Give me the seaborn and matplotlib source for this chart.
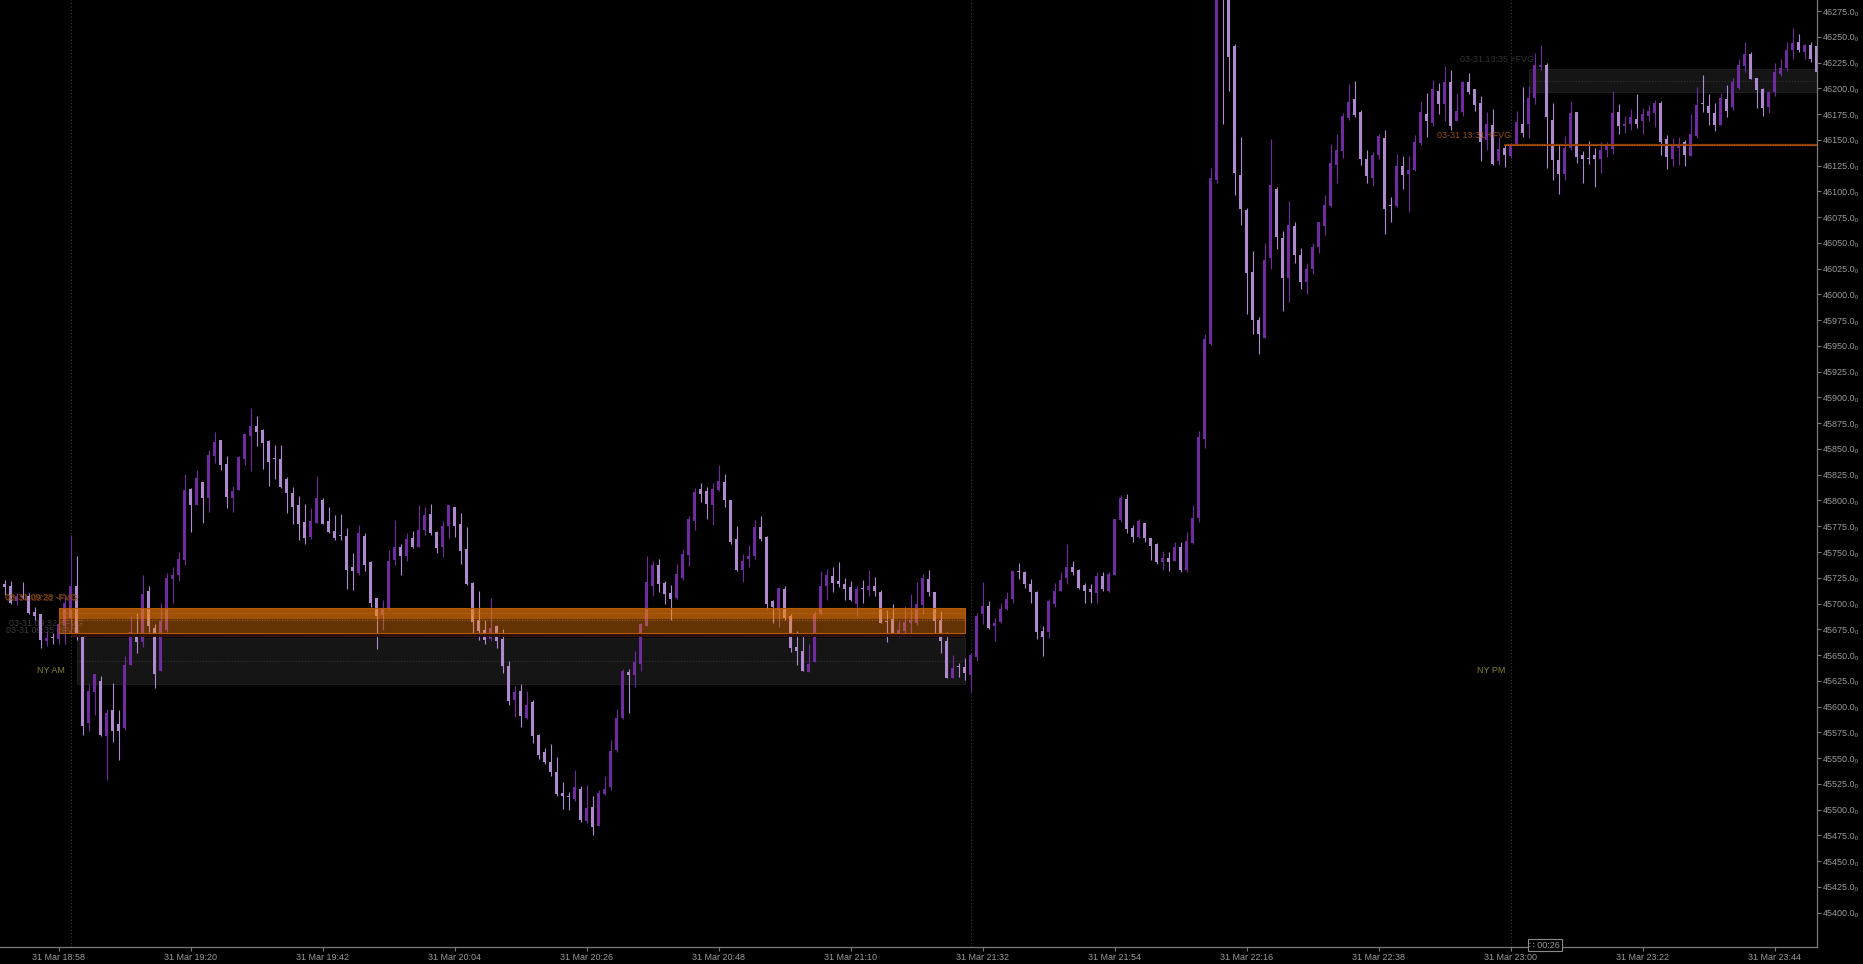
import numpy as np
import pandas as pd
import matplotlib
matplotlib.use("Agg")
import matplotlib.pyplot as plt
import seaborn as sns

# ---------------- data (1-minute candles, 31 Mar from 18:49) ----------------
start_time = "2025-03-31 18:49"

opens = [
    45719, 45717, 45702, 45707, 45707, 45692, 45690, 45664, 45667, 45666,
    45678, 45686, 45717, 45668, 45584, 45614, 45625, 45571, 45597, 45583,
    45579, 45640, 45671, 45663, 45712, 45676, 45635, 45674, 45724, 45728,
    45742, 45811, 45796, 45818, 45802, 45843, 45859, 45835, 45802, 45810,
    45840, 45863, 45872, 45868, 45858, 45840, 45840, 45821, 45807, 45796,
    45779, 45765, 45778, 45800, 45780, 45770, 45766, 45766, 45735, 45730,
    45766, 45740, 45705, 45689, 45695, 45742, 45755, 45746, 45764, 45755,
    45771, 45787, 45769, 45755, 45775, 45794, 45777, 45753, 45720, 45684,
    45674, 45666, 45678, 45666, 45639, 45606, 45615, 45589, 45604, 45572,
    45556, 45546, 45537, 45516, 45512, 45510, 45520, 45489, 45503, 45484,
    45515, 45522, 45558, 45589, 45634, 45631, 45641, 45678, 45717, 45737,
    45720, 45710, 45705, 45725, 45747, 45780, 45811, 45809, 45796, 45810,
    45818, 45800, 45763, 45733, 45743, 45746, 45774, 45765, 45702, 45694,
    45714, 45688, 45658, 45654, 45634, 45643, 45690, 45717, 45727, 45722,
    45719, 45716, 45700, 45714, 45713, 45717, 45711, 45682, 45685, 45668,
    45673, 45681, 45681, 45699, 45724, 45711, 45684, 45664, 45628, 45638,
    45638, 45631, 45648, 45690, 45698, 45678, 45682, 45695, 45704, 45731,
    45731, 45719, 45711, 45673, 45672, 45700, 45712, 45725, 45735, 45733,
    45718, 45714, 45710, 45727, 45712, 45728, 45781, 45801, 45773, 45765,
    45778, 45764, 45758, 45740, 45744, 45741, 45755, 45733, 45759, 45783,
    45860, 45952, 46111, 46305, 46295, 46241, 46116, 46082, 46022, 45975,
    45958, 46035, 46102, 46055, 46016, 46066, 46038, 46012, 46025, 46046,
    46066, 46086, 46126, 46139, 46171, 46190, 46177, 46131, 46113, 46135,
    46152, 46086, 46086, 46125, 46117, 46121, 46147, 46175, 46166, 46197,
    46185, 46206, 46168, 46177, 46206, 46199, 46186, 46150, 46164, 46129,
    46142, 46134, 46145, 46165, 46165, 46191, 46221, 46223, 46169, 46130,
    46117, 46142, 46177, 46135, 46131, 46135, 46131, 46140, 46141, 46177,
    46163, 46165, 46170, 46168, 46173, 46176, 46186, 46151, 46131, 46142,
    46148, 46134, 46154, 46185, 46183, 46176, 46164, 46190, 46182, 46200,
    46222, 46233, 46210, 46199, 46182, 46196, 46214, 46220, 46237, 46245,
    46235, 46242, 46241,
]
highs = [
    45723, 45722, 45710, 45721, 45710, 45697, 45690, 45673, 45671, 45686,
    45708, 45767, 45746, 45670, 45622, 45632, 45630, 45598, 45623, 45597,
    45649, 45688, 45691, 45728, 45717, 45680, 45701, 45730, 45735, 45750,
    45826, 45812, 45830, 45818, 45849, 45866, 45859, 45843, 45814, 45843,
    45865, 45890, 45882, 45869, 45859, 45854, 45854, 45823, 45813, 45804,
    45797, 45793, 45824, 45802, 45794, 45786, 45787, 45773, 45749, 45776,
    45768, 45741, 45705, 45703, 45752, 45781, 45758, 45768, 45770, 45796,
    45794, 45797, 45770, 45780, 45796, 45794, 45788, 45774, 45721, 45712,
    45684, 45705, 45679, 45675, 45644, 45620, 45622, 45615, 45606, 45573,
    45560, 45564, 45551, 45527, 45517, 45538, 45523, 45524, 45513, 45519,
    45533, 45568, 45598, 45636, 45636, 45654, 45681, 45746, 45741, 45743,
    45722, 45718, 45738, 45753, 45785, 45812, 45817, 45813, 45817, 45834,
    45826, 45800, 45775, 45748, 45757, 45781, 45785, 45766, 45703, 45715,
    45717, 45690, 45673, 45669, 45661, 45693, 45732, 45734, 45735, 45740,
    45725, 45722, 45717, 45723, 45733, 45726, 45713, 45694, 45700, 45683,
    45698, 45709, 45721, 45729, 45733, 45711, 45693, 45672, 45650, 45642,
    45647, 45652, 45691, 45721, 45702, 45686, 45701, 45711, 45732, 45739,
    45732, 45724, 45712, 45678, 45704, 45720, 45731, 45758, 45741, 45734,
    45720, 45719, 45731, 45731, 45731, 45782, 45805, 45806, 45776, 45782,
    45778, 45764, 45759, 45751, 45750, 45760, 45760, 45769, 45796, 45867,
    45962, 46123, 46310, 46315, 46300, 46243, 46153, 46084, 46042, 45978,
    46050, 46151, 46104, 46062, 46091, 46070, 46045, 46030, 46050, 46070,
    46096, 46146, 46156, 46176, 46204, 46207, 46179, 46140, 46138, 46156,
    46160, 46095, 46136, 46134, 46134, 46155, 46188, 46195, 46208, 46205,
    46222, 46218, 46195, 46207, 46215, 46199, 46193, 46177, 46180, 46153,
    46145, 46146, 46178, 46201, 46202, 46234, 46242, 46225, 46186, 46146,
    46154, 46188, 46177, 46139, 46149, 46142, 46148, 46148, 46197, 46185,
    46173, 46180, 46194, 46181, 46184, 46189, 46188, 46155, 46152, 46153,
    46150, 46175, 46201, 46213, 46194, 46186, 46195, 46203, 46210, 46228,
    46245, 46235, 46210, 46200, 46197, 46225, 46228, 46245, 46259, 46253,
    46243, 46245, 46241,
]
lows = [
    45708, 45700, 45699, 45704, 45690, 45684, 45657, 45659, 45661, 45661,
    45661, 45668, 45665, 45572, 45576, 45592, 45571, 45529, 45566, 45548,
    45577, 45640, 45652, 45658, 45672, 45618, 45635, 45672, 45701, 45722,
    45737, 45769, 45796, 45778, 45789, 45836, 45830, 45793, 45789, 45810,
    45834, 45829, 45853, 45831, 45814, 45821, 45812, 45788, 45777, 45762,
    45758, 45763, 45778, 45777, 45768, 45762, 45762, 45714, 45713, 45728,
    45732, 45697, 45656, 45674, 45694, 45737, 45728, 45741, 45754, 45755,
    45767, 45767, 45749, 45745, 45764, 45765, 45738, 45718, 45671, 45665,
    45661, 45664, 45657, 45633, 45602, 45590, 45580, 45588, 45565, 45549,
    45544, 45533, 45513, 45501, 45500, 45508, 45488, 45487, 45475, 45484,
    45514, 45519, 45556, 45588, 45594, 45619, 45635, 45678, 45707, 45711,
    45700, 45684, 45704, 45723, 45736, 45771, 45799, 45782, 45776, 45809,
    45794, 45758, 45732, 45721, 45735, 45743, 45761, 45695, 45681, 45677,
    45684, 45653, 45640, 45635, 45634, 45643, 45690, 45703, 45711, 45716,
    45703, 45702, 45688, 45701, 45707, 45707, 45681, 45663, 45669, 45668,
    45670, 45671, 45679, 45690, 45707, 45670, 45652, 45628, 45628, 45629,
    45626, 45614, 45644, 45680, 45675, 45664, 45681, 45694, 45701, 45724,
    45715, 45701, 45666, 45649, 45667, 45697, 45712, 45719, 45728, 45714,
    45701, 45701, 45701, 45712, 45711, 45728, 45779, 45768, 45760, 45764,
    45760, 45742, 45738, 45733, 45732, 45741, 45731, 45731, 45758, 45779,
    45851, 45951, 46108, 46165, 46197, 46096, 46067, 45981, 45962, 45942,
    45958, 46025, 46044, 45984, 45993, 46030, 46005, 46000, 46020, 46040,
    46058, 46085, 46108, 46132, 46169, 46172, 46126, 46108, 46105, 46131,
    46059, 46070, 46085, 46102, 46080, 46120, 46145, 46153, 46163, 46175,
    46168, 46160, 46168, 46173, 46194, 46178, 46129, 46140, 46126, 46126,
    46124, 46132, 46144, 46153, 46152, 46185, 46218, 46123, 46111, 46097,
    46111, 46140, 46128, 46108, 46127, 46104, 46118, 46133, 46136, 46156,
    46157, 46160, 46161, 46156, 46168, 46162, 46135, 46122, 46125, 46126,
    46125, 46134, 46152, 46177, 46164, 46159, 46164, 46172, 46179, 46199,
    46216, 46209, 46181, 46173, 46176, 46193, 46212, 46217, 46228, 46235,
    46228, 46226, 46216,
]
closes = [
    45716, 45701, 45707, 45706, 45691, 45688, 45665, 45667, 45667, 45680,
    45701, 45717, 45670, 45581, 45615, 45632, 45572, 45594, 45576, 45576,
    45640, 45672, 45663, 45709, 45678, 45632, 45683, 45725, 45728, 45743,
    45810, 45796, 45822, 45802, 45844, 45857, 45834, 45803, 45809, 45842,
    45865, 45872, 45866, 45856, 45837, 45840, 45813, 45807, 45794, 45777,
    45764, 45780, 45802, 45777, 45769, 45764, 45766, 45733, 45732, 45768,
    45737, 45701, 45688, 45696, 45741, 45755, 45746, 45763, 45755, 45771,
    45786, 45768, 45754, 45775, 45796, 45775, 45751, 45719, 45682, 45673,
    45665, 45676, 45664, 45639, 45605, 45614, 45591, 45602, 45571, 45553,
    45546, 45537, 45515, 45513, 45512, 45522, 45490, 45502, 45483, 45516,
    45520, 45557, 45589, 45635, 45631, 45643, 45680, 45721, 45737, 45719,
    45709, 45704, 45729, 45748, 45782, 45808, 45806, 45797, 45811, 45819,
    45800, 45760, 45733, 45741, 45746, 45774, 45763, 45700, 45697, 45715,
    45686, 45657, 45654, 45635, 45641, 45690, 45717, 45728, 45720, 45719,
    45714, 45703, 45714, 45714, 45717, 45712, 45681, 45682, 45669, 45674,
    45682, 45684, 45700, 45725, 45711, 45683, 45664, 45628, 45637, 45638,
    45633, 45650, 45688, 45698, 45676, 45681, 45695, 45704, 45732, 45731,
    45719, 45711, 45672, 45668, 45702, 45712, 45723, 45735, 45731, 45715,
    45712, 45711, 45727, 45714, 45729, 45782, 45802, 45772, 45765, 45780,
    45764, 45756, 45740, 45744, 45740, 45755, 45733, 45761, 45783, 45862,
    45957, 46113, 46300, 46292, 46230, 46118, 46083, 46021, 45975, 45962,
    46033, 46106, 46056, 46016, 46067, 46038, 46012, 46025, 46046, 46070,
    46087, 46128, 46140, 46173, 46187, 46174, 46131, 46115, 46135, 46154,
    46083, 46086, 46125, 46116, 46121, 46148, 46177, 46168, 46199, 46185,
    46206, 46163, 46178, 46206, 46196, 46184, 46148, 46165, 46127, 46141,
    46135, 46145, 46167, 46157, 46191, 46223, 46223, 46172, 46130, 46117,
    46142, 46176, 46133, 46131, 46131, 46131, 46140, 46144, 46176, 46163,
    46165, 46172, 46165, 46175, 46178, 46186, 46148, 46133, 46144, 46146,
    46135, 46156, 46184, 46185, 46176, 46164, 46191, 46178, 46206, 46223,
    46233, 46209, 46198, 46181, 46196, 46216, 46220, 46237, 46244, 46237,
    46242, 46228, 46216,
]

xtick_labels = ["31 Mar 18:58", "31 Mar 19:20", "31 Mar 19:42", "31 Mar 20:04",
                "31 Mar 20:26", "31 Mar 20:48", "31 Mar 21:10", "31 Mar 21:32",
                "31 Mar 21:54", "31 Mar 22:16", "31 Mar 22:38", "31 Mar 23:00",
                "31 Mar 23:22", "31 Mar 23:44"]
ytick_values = list(range(45400, 46276, 25))

session_times = ["2025-03-31 19:00", "2025-03-31 21:30", "2025-03-31 23:00"]
session_labels = {"2025-03-31 19:00": "NY AM", "2025-03-31 23:00": "NY PM"}
session_label_price = 45635

# FVG zones: start, end, low, high
orange_zones = [("2025-03-31 18:58", "2025-03-31 21:29", 45671.1, 45695.4),
                ("2025-03-31 18:58", "2025-03-31 21:29", 45684.7, 45695.4)]
red_strip = ("2025-03-31 19:00", "2025-03-31 21:29", 45667.3, 45670.6)
gray_zones = [("2025-03-31 19:01", "2025-03-31 21:29", 45621.6, 45666.3),
              ("2025-03-31 23:03", "2025-03-31 23:55", 46196.7, 46218.4)]
orange_line = ("2025-03-31 22:59", "2025-03-31 23:55", 46145.0)

# ---------------- figure ----------------
sns.set_theme(style="dark", rc={"axes.facecolor": "black", "figure.facecolor": "black"})
plt.rcParams["font.family"] = ["Liberation Sans", "DejaVu Sans"]

df = pd.DataFrame({"time": pd.date_range(start_time, periods=len(opens), freq="min"),
                   "open": opens, "high": highs, "low": lows, "close": closes})
t0 = df["time"].iloc[0]


def tx(t):
    return (pd.Timestamp(t) - t0) / pd.Timedelta(minutes=1)


df["x"] = [tx(t) for t in df["time"]]

W, H = 1863, 964
fig = plt.figure(figsize=(W / 100, H / 100), dpi=100)
ax = fig.add_axes([0, 17 / H, 1817 / W, 947 / H])
ax.set_facecolor("black")
ax.grid(False)

UP = "#6E2CA0"
DN = "#B08ACF"
up = df["close"].values > df["open"].values
colors = np.where(up, UP, DN)

# session separators
for s in session_times:
    ax.axvline(tx(s), color="#3a3a3a", lw=0.8, ls=(0, (1, 2)), zorder=1)
    if s in session_labels:
        ax.text(tx(s) - 0.9, session_label_price, session_labels[s], ha="right",
                va="center", color="#85852a", fontsize=6.5, zorder=6)

# gray FVG boxes (under candles)
for (s, e, lo, hi) in gray_zones:
    ax.fill_between([tx(s), tx(e)], lo, hi, color="#151515", lw=0, zorder=1.5)
    ax.plot([tx(s), tx(e), tx(e), tx(s), tx(s)], [lo, lo, hi, hi, lo], color="#1d1d1d",
            lw=0.8, zorder=1.6)
    ax.plot([tx(s), tx(e)], [(lo + hi) / 2] * 2, color="#3a3a3a", lw=0.7,
            ls=(0, (1, 2)), zorder=1.7)

# faint labels under the orange zone
ax.text(13.0, 45681, "03-31 09:32 +FVG", ha="right", va="center", color="#3a3a3a",
        fontsize=6.5, zorder=2)
ax.text(12.6, 45674, "03-31 09:35 +FVG", ha="right", va="center", color="#3a3a3a",
        fontsize=6.5, zorder=2)

# candles
ax.vlines(df["x"], df["low"], df["high"], colors=colors, lw=0.8, zorder=3)
body_lo = np.minimum(df["open"].values, df["close"].values)
body_h = np.maximum(np.abs(df["close"].values - df["open"].values), 1.0)
ax.bar(df["x"], body_h, bottom=body_lo, width=0.58, color=colors, lw=0, zorder=4)

# orange FVG zones (translucent, over candles)
for (s, e, lo, hi) in orange_zones:
    ax.fill_between([tx(s), tx(e)], lo, hi, color="#FA820A", alpha=0.4, lw=0, zorder=5)
s, e, lo, hi = orange_zones[0]
ax.plot([tx(s), tx(e), tx(e), tx(s), tx(s)], [lo, lo, hi, hi, lo], color="#B45A05",
        lw=0.8, zorder=5.1)
ax.plot([tx(s), tx(e)], [45690.6] * 2, color="#C87020", lw=0.6, ls=(0, (1, 2)), zorder=5.2)
ax.plot([tx(s), tx(e)], [45684.0] * 2, color="#C87020", lw=0.6, ls=(0, (1, 2)), zorder=5.2)
s, e, lo, hi = red_strip
ax.fill_between([tx(s), tx(e)], lo, hi, color="#2a0f0f", lw=0, zorder=5)
ax.plot([tx(s), tx(e)], [(lo + hi) / 2] * 2, color="#5a2a2a", lw=0.6, ls=(0, (1, 2)), zorder=5.2)

ax.text(12.0, 45705.5, "03-31 09:28 -FVG", ha="right", va="center", color="#8a4a0c",
        fontsize=6.5, zorder=6)
ax.text(12.3, 45705.0, "03-31 09:32 -FVG", ha="right", va="center", color="#8a4a0c",
        fontsize=6.5, zorder=6, alpha=0.8)

# right side FVG texts / line
ax.text(254.9, 46228, "03-31 13:35 +FVG", ha="right", va="center", color="#333333",
        fontsize=6.5, zorder=6)
ax.text(251.0, 46154.5, "03-31 13:31 +FVG", ha="right", va="center", color="#9a4c0c",
        fontsize=6.5, zorder=6)
s, e, p = orange_line
ax.plot([tx(s), tx(e)], [p, p], color="#8a3d08", lw=1.6, zorder=5)
ax.plot([tx(s), tx(e)], [p, p], color="#D06A20", lw=0.7, ls=(0, (1, 1.5)), zorder=5.1)

# axes limits
ax.set_xlim(-0.78, 302.05)
ax.set_ylim(45366.7, 46285.7)

# ticks
xt = [tx("2025-03-31 " + lab.split()[-1]) for lab in xtick_labels]
ax.set_xticks(xt)
ax.set_xticklabels(xtick_labels)
ax.yaxis.tick_right()
ax.set_yticks(ytick_values)
ax.set_yticklabels([f"{v:.1f}\u2080" for v in ytick_values])
ax.tick_params(axis="both", which="both", direction="out", length=3, width=0.8,
               color="#7a7a7a", labelcolor="#999999", labelsize=6.5)
ax.tick_params(axis="x", pad=1, bottom=True)
ax.tick_params(axis="y", pad=1.5, right=True, left=False)

for side in ["top", "left"]:
    ax.spines[side].set_visible(False)
for side in ["right", "bottom"]:
    ax.spines[side].set_visible(True)
    ax.spines[side].set_color("#7a7a7a")
    ax.spines[side].set_linewidth(0.9)

# countdown box
ax.text(256.7, 0.002, "\u2237 00:26", transform=ax.get_xaxis_transform(), ha="center",
        va="center", color="#9a9a9a", fontsize=6.5, zorder=10, clip_on=False,
        bbox=dict(boxstyle="square,pad=0.15", fc="black", ec="#8a8a8a", lw=0.8))

fig.savefig("out.png", dpi=100, facecolor="black")
